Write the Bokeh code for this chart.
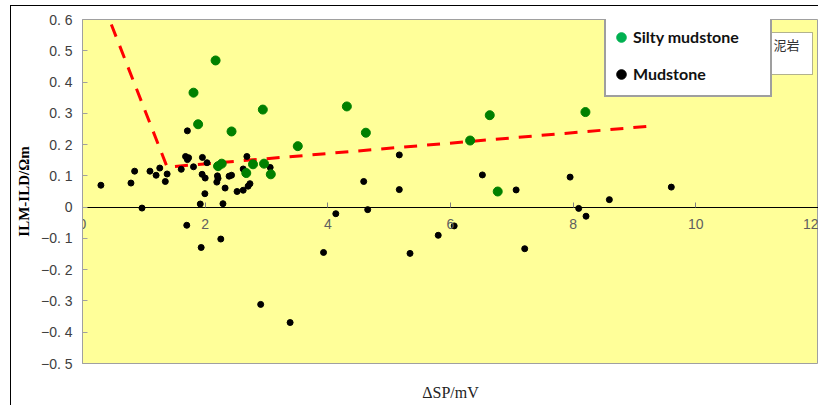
from bokeh.plotting import figure
from bokeh.models import (Range1d, FixedTicker, Legend, LegendItem, LinearAxis,
                          BoxAnnotation, Label)
from bokeh.embed import file_html
from bokeh.resources import INLINE

# ---------------- data ----------------
silty_x = [1.81, 2.17, 1.885, 2.43, 2.94, 3.51, 4.31, 4.62, 2.21, 2.27,
           2.67, 2.78, 2.96, 3.07, 6.64, 8.20, 6.32, 6.77]
silty_y = [0.366, 0.469, 0.265, 0.242, 0.312, 0.195, 0.322, 0.238, 0.131, 0.139,
           0.109, 0.137, 0.139, 0.105, 0.294, 0.304, 0.213, 0.050]

mud_x = [0.30, 0.79, 0.85, 1.10, 1.20, 1.26, 1.35, 1.38, 0.97, 1.61,
         1.71, 1.68, 1.73, 1.71, 1.81, 1.955, 2.03, 1.95, 2.00, 1.995,
         1.92, 2.29, 2.20, 2.21, 2.19, 2.325, 2.39, 2.43, 2.52, 2.62,
         2.62, 2.66, 2.68, 2.73, 2.70, 3.06, 1.70, 1.935, 2.255, 2.905,
         3.385, 3.93, 4.13, 4.65, 4.585, 5.165, 5.165, 5.34, 5.80, 6.06,
         6.52, 7.07, 7.21, 7.95, 8.09, 8.21, 8.59, 9.60]
mud_y = [0.070, 0.077, 0.115, 0.115, 0.102, 0.125, 0.082, 0.106, -0.003, 0.121,
         0.244, 0.162, 0.158, 0.152, 0.129, 0.159, 0.142, 0.105, 0.093, 0.043,
         0.010, 0.011, 0.100, 0.092, 0.080, 0.061, 0.099, 0.102, 0.050, 0.054,
         0.122, 0.112, 0.162, 0.075, 0.067, 0.127, -0.058, -0.129, -0.102, -0.311,
         -0.369, -0.145, -0.021, -0.008, 0.082, 0.167, 0.056, -0.148, -0.090, -0.060,
         0.103, 0.055, -0.133, 0.096, -0.004, -0.029, 0.024, 0.064]

trend_x = [0.47, 1.38, 9.2]
trend_y = [0.584, 0.128, 0.258]

x_ticks = [0, 2, 4, 6, 8, 10, 12]
x_tick_labels = ["0", "2", "4", "6", "8", "10", "12"]
y_ticks = [-0.5, -0.4, -0.3, -0.2, -0.1, 0, 0.1, 0.2, 0.3, 0.4, 0.5, 0.6]
y_tick_labels = ["\u22120. 5", "\u22120. 4", "\u22120. 3", "\u22120. 2", "\u22120. 1", "0",
                 "0. 1", "0. 2", "0. 3", "0. 4", "0. 5", "0. 6"]

x_title = "ΔSP/mV"
y_title = "ILM-ILD/Ωm"
series_names = ["Silty mudstone", "Mudstone"]
stray_legend_text = "泥岩"
nan = float("nan")

# ---------------- figure ----------------
p = figure(width=818, height=405,
           x_range=Range1d(0, 12), y_range=Range1d(-0.5, 0.6),
           output_backend="svg", toolbar_location=None,
           min_border_left=82, min_border_right=0,
           min_border_top=19, min_border_bottom=42,
           styles={"background-color": "white",
                   "background-image": "linear-gradient(black, black), linear-gradient(black, black)",
                   "background-size": "100% 1px, 1px 100%",
                   "background-position": "10px 5px, 10px 5px",
                   "background-repeat": "no-repeat"})
p.background_fill_color = "#FFFF99"
p.border_fill_color = None
p.outline_line_color = "#A0A0A0"
p.outline_line_width = 1
p.grid.visible = False

# y axis
yax = p.yaxis[0]
yax.ticker = FixedTicker(ticks=y_ticks)
yax.major_label_overrides = dict(zip(y_ticks, y_tick_labels))
yax.axis_line_color = "#A0A0A0"
yax.major_tick_line_color = "#A0A0A0"
yax.major_tick_in = 5
yax.major_tick_out = 0
yax.minor_tick_line_color = None
yax.major_label_standoff = 10
yax.major_label_text_font = "Liberation Sans"
yax.major_label_text_font_size = "14px"
yax.major_label_text_color = "#404040"
yax.axis_label = y_title
yax.axis_label_text_font = "Liberation Serif"
yax.axis_label_text_font_style = "bold"
yax.axis_label_text_font_size = "15px"
yax.axis_label_text_color = "black"
yax.axis_label_standoff = 6

# x axis crossing at y = 0
xax = p.xaxis[0]
xax.fixed_location = 0
xax.ticker = FixedTicker(ticks=x_ticks)
xax.major_label_overrides = dict(zip(x_ticks, x_tick_labels))
xax.axis_line_color = "black"
xax.major_tick_line_color = "#808080"
xax.major_tick_in = 5
xax.major_tick_out = 0
xax.minor_tick_line_color = None
xax.major_label_standoff = 12
xax.major_label_text_font = "Liberation Sans"
xax.major_label_text_font_size = "14px"
xax.major_label_text_color = "#606060"

# x-axis title carried by a tick-less axis at the bottom of the frame
xtitle_axis = LinearAxis(ticker=FixedTicker(ticks=[]), axis_label=x_title,
                         axis_line_color=None, major_tick_line_color=None,
                         minor_tick_line_color=None, major_tick_in=0,
                         major_tick_out=0, major_label_standoff=0,
                         axis_label_standoff=20,
                         axis_label_text_font="Liberation Serif",
                         axis_label_text_font_size="16px",
                         axis_label_text_font_style="normal",
                         axis_label_text_color="#222222")
p.add_layout(xtitle_axis, "below")

# ---------------- marks ----------------
p.line(trend_x, trend_y, line_color="#FF0000", line_width=3, line_dash="13 10")
p.scatter(mud_x, mud_y, size=6, color="black")
p.scatter(silty_x, silty_y, size=9, color="#008000")

leg_silty = p.scatter(x=[nan], y=[nan], color="#00B050")
leg_mud = p.scatter(x=[nan], y=[nan], color="black")

p.add_layout(BoxAnnotation(left=688, right=730, top=331, bottom=289,
                           left_units="screen", right_units="screen",
                           top_units="screen", bottom_units="screen",
                           fill_color="white", fill_alpha=1,
                           line_color="black", line_width=1))
p.add_layout(Label(x=691, y=319, x_units="screen", y_units="screen",
                   text=stray_legend_text, text_font="Noto Sans CJK SC",
                   text_font_size="13px", text_baseline="middle",
                   text_color="#333333"))

legend = Legend(items=[LegendItem(label=series_names[0], renderers=[leg_silty]),
                       LegendItem(label=series_names[1], renderers=[leg_mud])],
                location=(522, 266), padding=3, spacing=0, margin=0,
                glyph_width=24, glyph_height=28, label_height=37,
                label_width=134, label_standoff=0,
                border_line_color="#404040", border_line_width=2,
                background_fill_color="white", background_fill_alpha=1,
                label_text_font="Lato", label_text_font_style="bold",
                label_text_font_size="16px", label_text_color="#111111")
p.add_layout(legend)

open("out.html", "w").write(file_html(p, INLINE))
